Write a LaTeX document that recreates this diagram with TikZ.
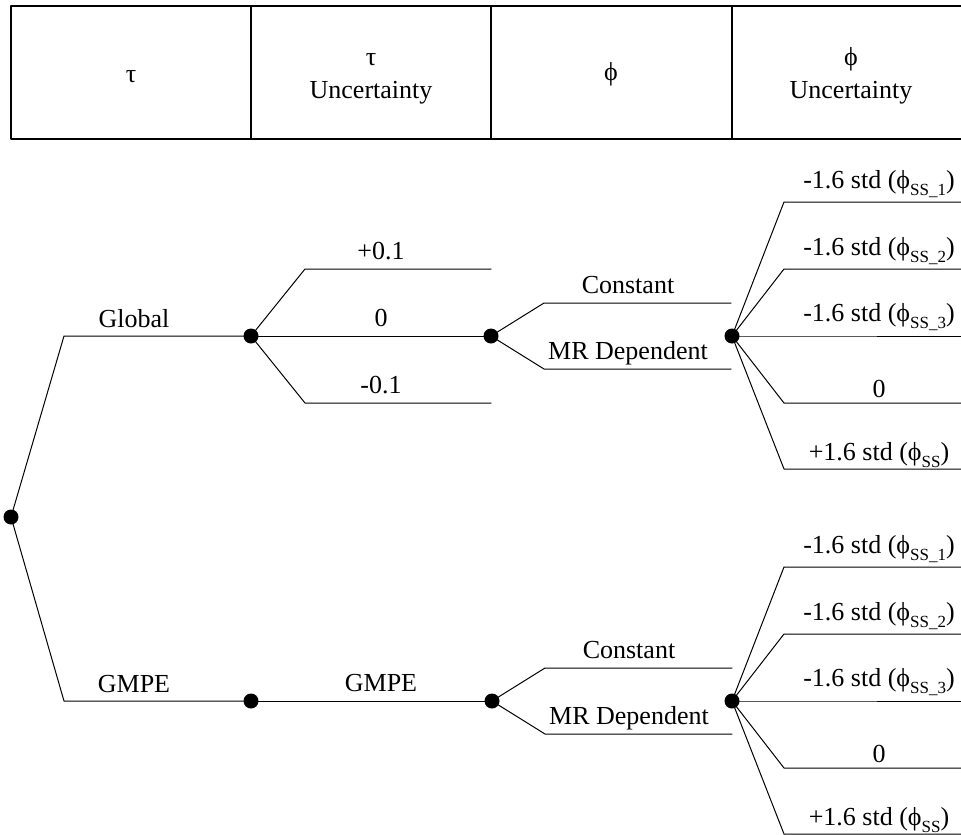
\documentclass[tikz,border=0pt]{standalone}
\usepackage{fontspec}
\setmainfont{Liberation Serif}
% small lowered text for the phi subscripts
\newcommand\lowtxt[1]{\raisebox{-0.28em}{\fontsize{17}{17}\selectfont #1}}
\newcommand\ph{ϕ}
\begin{document}
\begin{tikzpicture}[x=1pt,y=-1pt,line width=1pt,line join=round,line cap=round]
	\tikzset{dot/.style={circle,fill,inner sep=0pt,minimum size=15pt},
		lbl/.style={anchor=base,inner sep=0pt,font=\fontsize{26}{30}\selectfont}}
	\useasboundingbox (0,0) rectangle (961,835);
	% header row
	\draw[line width=1.3pt] (11,6) rectangle (980,139);
	\foreach \x in {251,491,732}
	\draw[line width=1.3pt] (\x,6)--(\x,139);
	\node[lbl] (h1) at (131,82) {τ};
	\node[lbl] (h2) at (371,65) {τ};
	\node[lbl] (h2u) at (371,98) {Uncertainty};
	\node[lbl] (h3) at (611,80) {\ph};
	\node[lbl] (h4) at (851,65) {\ph};
	\node[lbl] (h4u) at (851,98) {Uncertainty};
	% tree
	\node[dot] (root) at (11,517) {};
	\node[dot] (ga) at (251,336) {};
	\node[dot] (gb) at (251,701) {};
	\node[dot] (ta) at (491,336) {};
	\node[dot] (tb) at (492,701) {};
	\node[dot] (pa) at (732,336) {};
	\node[dot] (pb) at (732,701) {};
	\coordinate (ka) at (64,336);
	\coordinate (kb) at (64,701);
	\draw (root.center)--(ka)--(ga.center);
	\draw (root.center)--(kb)--(gb.center);
	\node[lbl] (global) at (134,327) {Global};
	\node[lbl] (gmpe) at (134,692) {GMPE};
	% tau uncertainty
	\coordinate (tu1) at (305,269);
	\coordinate (tu2) at (305,403);
	\draw (ga.center)--(tu1)--(491,269);
	\draw (ga.center)--(ta.center);
	\draw (ga.center)--(tu2)--(491,403);
	\node[lbl] at (381,259) {+0.1};
	\node[lbl] at (381,326) {0};
	\node[lbl] at (381,393) {-0.1};
	\draw (gb.center)--(tb.center);
	\node[lbl] at (381,691) {GMPE};
	% phi model
	\foreach \t/\p in {ta/pa,tb/pb}{
		\coordinate (\t-c) at ([shift={(53,-33)}]\t.center);
		\coordinate (\t-m) at ([shift={(53,33)}]\t.center);
		\draw (\t.center)--(\t-c)--([shift={(240,-33)}]\t.center);
		\draw (\t.center)--(\t-m)--([shift={(240,33)}]\t.center);
		\node[lbl] at ([shift={(137,-43)}]\t.center) {Constant};
		\node[lbl] at ([shift={(137,23)}]\t.center) {MR Dependent};
	}
	% phi uncertainty
	\foreach \p in {pa,pb}
	\foreach \dy/\up/\txt in {-134/14/{-1.6 std (\ph\lowtxt{SS\_1})},-67/14/{-1.6 std (\ph\lowtxt{SS\_2})},0/15/{-1.6 std (\ph\lowtxt{SS\_3})},67/6/0,133/9/{+1.6 std (\ph\lowtxt{SS})}}{
		\coordinate (\p\dy) at ([shift={(52,\dy)}]\p.center);
		\draw (\p.center)--(\p\dy)--([shift={(240,\dy)}]\p.center);
		\node[lbl] at ([shift={(147,\dy-\up)}]\p.center) {\txt};
	}
\end{tikzpicture}
\end{document}
